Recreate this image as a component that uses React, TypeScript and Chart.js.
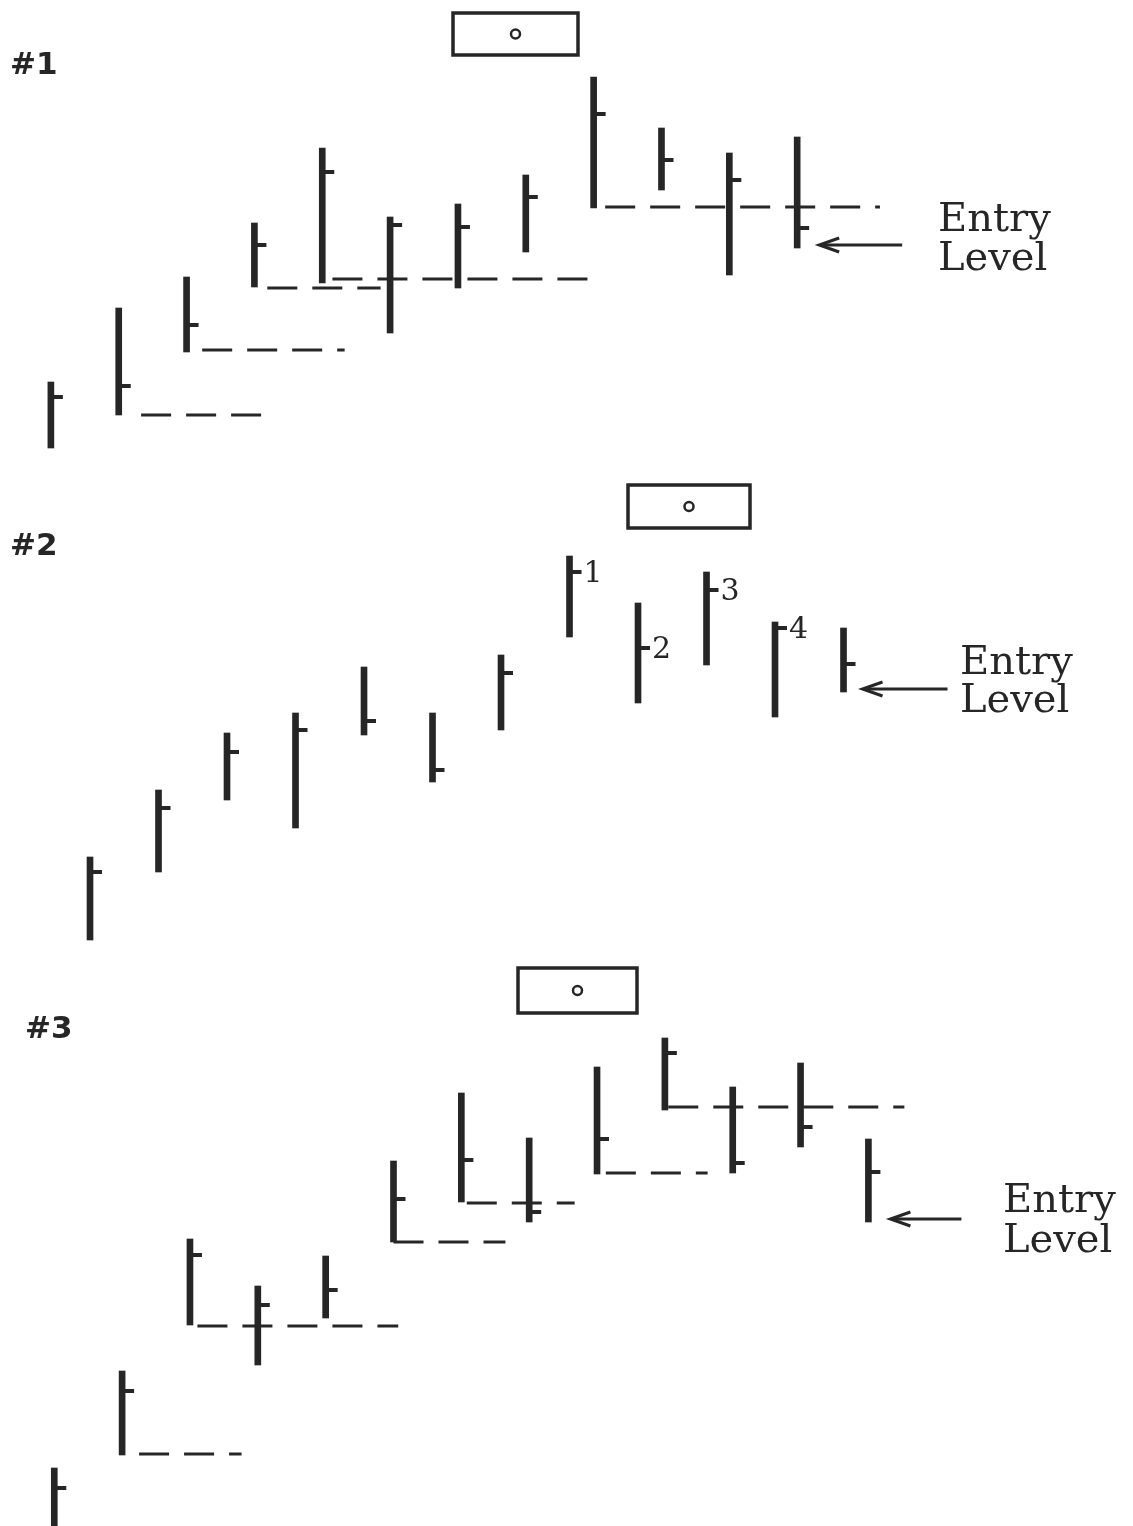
import React, { useEffect, useRef } from "react";
import { Chart, registerables } from "chart.js";
Chart.register(...registerables);

const INK = "#262626";

// ---------- Panel #1 (bar index 0..11; prices in arbitrary points) ----------
const p1High = [17.6, 32.4, 38.6, 49.4, 64.4, 50.6, 53.2, 59.0, 78.6, 68.4, 63.4, 66.6];
const p1Low = [4.4, 11.0, 23.6, 36.6, 37.4, 27.4, 36.4, 43.6, 52.4, 56.0, 39.0, 44.4];
const p1Close = [14.6, 16.8, 29.0, 45.0, 59.6, 49.0, 48.6, 54.6, 71.2, 62.0, 58.0, 48.4];
const p1DashLevel = [11.0, 24.0, 36.4, 38.2, 52.6];
const p1DashFrom = [1.33, 2.23, 3.19, 4.15, 8.17];
const p1DashTo = [3.31, 4.33, 4.86, 7.99, 12.22];

// ---------- Panel #2 ----------
const p2High = [18.6, 32.0, 43.4, 47.4, 56.6, 47.4, 59.0, 78.8, 69.4, 75.6, 65.6, 64.4];
const p2Low = [2.0, 15.6, 30.0, 24.4, 43.0, 33.6, 44.0, 62.6, 49.4, 57.0, 46.6, 51.6];
const p2Close = [15.6, 28.4, 39.6, 44.0, 45.8, 36.0, 55.4, 75.6, 60.4, 72.0, 64.4, 57.2];
const p2Marks = ["", "", "", "", "", "", "", "1", "2", "3", "4", ""];

// ---------- Panel #3 ----------
const p3High = [11.6, 31.0, 57.4, 48.0, 54.0, 73.0, 86.6, 77.6, 91.8, 97.6, 87.8, 92.6, 77.4];
const p3Low = [-4.0, 14.2, 40.2, 32.2, 41.6, 56.8, 64.8, 60.8, 70.4, 83.2, 70.6, 75.8, 60.8];
const p3Close = [7.6, 27.0, 54.2, 44.2, 47.2, 65.4, 73.2, 62.8, 77.4, 94.6, 72.6, 79.8, 70.8];
const p3DashLevel = [14.4, 40.0, 56.8, 64.6, 70.6, 83.8];
const p3DashFrom = [1.25, 2.11, 5.0, 6.08, 8.13, 9.05];
const p3DashTo = [2.76, 5.07, 6.65, 7.67, 9.63, 12.53];

const entryWord = "Entry";
const levelWord = "Level";

type PanelCfg = {
  high: number[];
  low: number[];
  close: number[];
  dashLevel: number[];
  dashFrom: number[];
  dashTo: number[];
  marks: string[];
  title: string;
  // layout
  height: number;
  xMin: number;
  xMax: number;
  yMax: number;
  titleX: number;
  titleY: number;
  box: { x: number; y: number; w: number; h: number };
  arrowGap: number;
  arrowLen: number;
  textX: number;
  entryY: number;
  levelY: number;
};

const panels: PanelCfg[] = [
  {
    high: p1High, low: p1Low, close: p1Close,
    dashLevel: p1DashLevel, dashFrom: p1DashFrom, dashTo: p1DashTo,
    marks: [], title: "#1",
    height: 470, xMin: -0.75, xMax: 15.95, yMax: 94,
    titleX: 10, titleY: 74,
    box: { x: 453, y: 13, w: 125, h: 42 },
    arrowGap: 22, arrowLen: 83, textX: 938, entryY: 231, levelY: 270,
  },
  {
    high: p2High, low: p2Low, close: p2Close,
    dashLevel: [], dashFrom: [], dashTo: [],
    marks: p2Marks, title: "#2",
    height: 480, xMin: -1.314, xMax: 15.226, yMax: 96,
    titleX: 10, titleY: 85,
    box: { x: 628, y: 15, w: 122, h: 43 },
    arrowGap: 19, arrowLen: 85, textX: 960, entryY: 204, levelY: 242,
  },
  {
    high: p3High, low: p3Low, close: p3Close,
    dashLevel: p3DashLevel, dashFrom: p3DashFrom, dashTo: p3DashTo,
    marks: [], title: "#3",
    height: 576, xMin: -0.8, xMax: 15.9, yMax: 115.2,
    titleX: 25, titleY: 88,
    box: { x: 518, y: 18, w: 119, h: 45 },
    arrowGap: 22, arrowLen: 71, textX: 1003, entryY: 262, levelY: 302,
  },
];

function makeDecor(cfg: PanelCfg) {
  return {
    id: "decor",
    afterDatasetsDraw(chart: any) {
      const ctx: CanvasRenderingContext2D = chart.ctx;
      const ys = chart.scales.y;
      const meta = chart.getDatasetMeta(0);
      ctx.save();
      ctx.strokeStyle = INK;
      ctx.fillStyle = INK;
      ctx.lineCap = "butt";
      // close ticks + numbered marks
      meta.data.forEach((el: any, i: number) => {
        const yC = ys.getPixelForValue(cfg.close[i]);
        ctx.lineWidth = 4;
        ctx.beginPath();
        ctx.moveTo(el.x + 2, yC);
        ctx.lineTo(el.x + 12, yC);
        ctx.stroke();
        const m = cfg.marks[i];
        if (m) {
          ctx.font = "30px 'DejaVu Serif'";
          ctx.textBaseline = "middle";
          ctx.textAlign = "left";
          ctx.fillText(m, el.x + 14, yC + 2);
        }
      });
      // entry arrow at last bar's low
      const last = meta.data[meta.data.length - 1];
      const ay = ys.getPixelForValue(cfg.low[cfg.low.length - 1]) - 3;
      const tip = last.x + cfg.arrowGap;
      ctx.lineWidth = 3;
      ctx.beginPath();
      ctx.moveTo(tip + 4, ay);
      ctx.lineTo(tip + cfg.arrowLen, ay);
      ctx.stroke();
      ctx.lineJoin = "miter";
      ctx.beginPath();
      ctx.moveTo(tip + 20, ay - 7);
      ctx.lineTo(tip, ay);
      ctx.lineTo(tip + 20, ay + 7);
      ctx.stroke();
      // Entry / Level text
      ctx.font = "40px 'DejaVu Serif'";
      ctx.textBaseline = "alphabetic";
      ctx.textAlign = "left";
      ctx.fillText(entryWord, cfg.textX, cfg.entryY);
      ctx.fillText(levelWord, cfg.textX, cfg.levelY);
      // panel title
      ctx.font = "bold 31px 'DejaVu Sans'";
      ctx.fillText(cfg.title, cfg.titleX, cfg.titleY);
      // box with small circle
      const b = cfg.box;
      ctx.lineWidth = 3.5;
      ctx.strokeRect(b.x, b.y, b.w, b.h);
      ctx.lineWidth = 2.5;
      ctx.beginPath();
      ctx.arc(b.x + b.w / 2, b.y + b.h / 2, 4.5, 0, Math.PI * 2);
      ctx.stroke();
      ctx.restore();
    },
  };
}

function Panel({ cfg }: { cfg: PanelCfg }) {
  const ref = useRef<HTMLCanvasElement | null>(null);
  useEffect(() => {
    if (!ref.current) return;
    const datasets: any[] = [
      {
        type: "bar",
        data: cfg.high.map((h, i) => ({ x: i, y: [cfg.low[i], h] })),
        backgroundColor: INK,
        borderWidth: 0,
        barThickness: 6,
      },
      ...cfg.dashLevel.map((lv, k) => ({
        type: "line",
        data: [
          { x: cfg.dashFrom[k], y: lv },
          { x: cfg.dashTo[k], y: lv },
        ],
        borderColor: INK,
        borderWidth: 3,
        borderDash: [30, 15],
        borderCapStyle: "butt",
        pointRadius: 0,
        fill: false,
      })),
    ];
    const chart = new Chart(ref.current, {
      type: "bar",
      data: { datasets },
      options: {
        animation: false,
        responsive: true,
        maintainAspectRatio: false,
        layout: { padding: 0 },
        events: [],
        plugins: { legend: { display: false }, tooltip: { enabled: false } },
        scales: {
          x: { type: "linear", min: cfg.xMin, max: cfg.xMax, display: false, offset: false },
          y: { type: "linear", min: 0, max: cfg.yMax, display: false },
        },
      } as any,
      plugins: [makeDecor(cfg)],
    });
    return () => chart.destroy();
  }, [cfg]);
  return (
    <div style={{ position: "relative", width: 1133, height: cfg.height }}>
      <canvas ref={ref} />
    </div>
  );
}

export default function App() {
  return (
    <div style={{ position: "absolute", left: 0, top: 0, width: 1133, height: 1526, background: "#fff", overflow: "hidden" }}>
      {panels.map((p) => (
        <Panel key={p.title} cfg={p} />
      ))}
    </div>
  );
}
